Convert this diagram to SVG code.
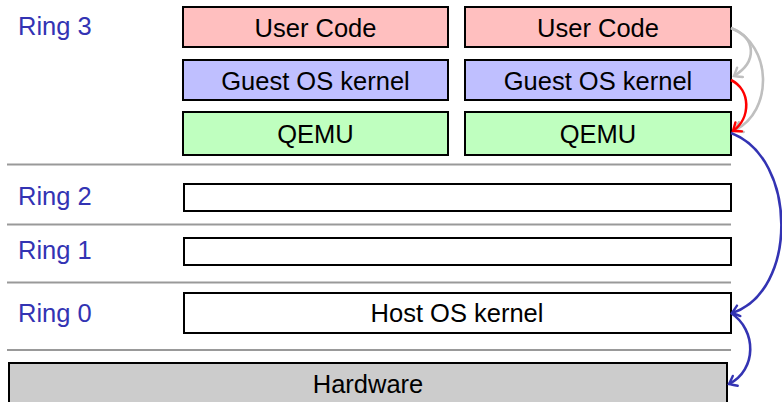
<svg xmlns="http://www.w3.org/2000/svg" width="782" height="402" viewBox="0 0 782 402">
<defs>
<style>
.box{stroke:#000;stroke-width:2}
.t{font-family:"Liberation Sans",Arial,sans-serif;font-size:25.5px;fill:#000;text-anchor:middle}
.ring{font-family:"Liberation Sans",Arial,sans-serif;font-size:25.5px;fill:#3333b3}
.sep{stroke:#999;stroke-width:2}
.arr{fill:none;stroke-width:2.6}
</style>
<marker id="mg" viewBox="-9 -7 11 14" markerWidth="11" markerHeight="14" refX="0" refY="0" orient="auto" markerUnits="userSpaceOnUse"><path d="M-7,-5.5 Q-2,-1.5 0,0 Q-2,1.5 -7,5.5" fill="none" stroke="#bfbfbf" stroke-width="2.4" stroke-linecap="round"/></marker>
<marker id="mr" viewBox="-9 -7 11 14" markerWidth="11" markerHeight="14" refX="0" refY="0" orient="auto" markerUnits="userSpaceOnUse"><path d="M-7,-5.5 Q-2,-1.5 0,0 Q-2,1.5 -7,5.5" fill="none" stroke="#ff0000" stroke-width="2.4" stroke-linecap="round"/></marker>
<marker id="mb" viewBox="-9 -7 11 14" markerWidth="11" markerHeight="14" refX="0" refY="0" orient="auto" markerUnits="userSpaceOnUse"><path d="M-7,-5.5 Q-2,-1.5 0,0 Q-2,1.5 -7,5.5" fill="none" stroke="#3333b3" stroke-width="2.4" stroke-linecap="round"/></marker>
</defs>
<rect width="782" height="402" fill="#fff"/>
<g id="separators">
<line class="sep" x1="7" y1="164.5" x2="731" y2="164.5"/>
<line class="sep" x1="7" y1="224.5" x2="731" y2="224.5"/>
<line class="sep" x1="7" y1="282.5" x2="731" y2="282.5"/>
<line class="sep" x1="7" y1="350" x2="731" y2="350"/>
</g>
<g id="labels">
<text class="ring" x="18" y="35">Ring 3</text>
<text class="ring" x="18" y="205">Ring 2</text>
<text class="ring" x="18" y="259">Ring 1</text>
<text class="ring" x="18" y="322">Ring 0</text>
</g>
<g id="user1"><rect class="box" x="183" y="7" width="265" height="40" fill="#ffbfbf"/><text class="t" x="315.5" y="37">User Code</text></g>
<g id="user2"><rect class="box" x="465" y="7" width="266" height="40" fill="#ffbfbf"/><text class="t" x="598" y="37">User Code</text></g>
<g id="guest1"><rect class="box" x="183" y="60" width="265" height="40" fill="#bfbfff"/><text class="t" x="315.5" y="90">Guest OS kernel</text></g>
<g id="guest2"><rect class="box" x="465" y="60" width="266" height="40" fill="#bfbfff"/><text class="t" x="598" y="90">Guest OS kernel</text></g>
<g id="qemu1"><rect class="box" x="183" y="112" width="265" height="43" fill="#bfffbf"/><text class="t" x="315.5" y="143">QEMU</text></g>
<g id="qemu2"><rect class="box" x="465" y="112" width="266" height="43" fill="#bfffbf"/><text class="t" x="598" y="143">QEMU</text></g>
<g id="ring2box"><rect class="box" x="184" y="184" width="547" height="27" fill="#fff"/></g>
<g id="ring1box"><rect class="box" x="184" y="238" width="547" height="27" fill="#fff"/></g>
<g id="host"><rect class="box" x="184" y="293" width="547" height="40" fill="#fff"/><text class="t" x="457" y="322">Host OS kernel</text></g>
<g id="hardware"><rect class="box" x="9" y="363" width="718" height="42" fill="#cccccc"/><text class="t" x="368" y="393">Hardware</text></g>
<g id="connectors">
<path class="arr" stroke="#bfbfbf" d="M731,28 C757,38 757,62 734,76" marker-end="url(#mg)"/>
<path class="arr" stroke="#bfbfbf" d="M731,28 C773,45 773,112 735,130" marker-end="url(#mg)"/>
<path class="arr" stroke="#ff0000" d="M731,80 C751,90 751,118 733,131" marker-end="url(#mr)"/>
<path class="arr" stroke="#3333b3" d="M731,133 C798,158 798,292 732,313" marker-end="url(#mb)"/>
<path class="arr" stroke="#3333b3" d="M731,313 C757,330 757,370 729,384" marker-end="url(#mb)"/>
</g>
</svg>
